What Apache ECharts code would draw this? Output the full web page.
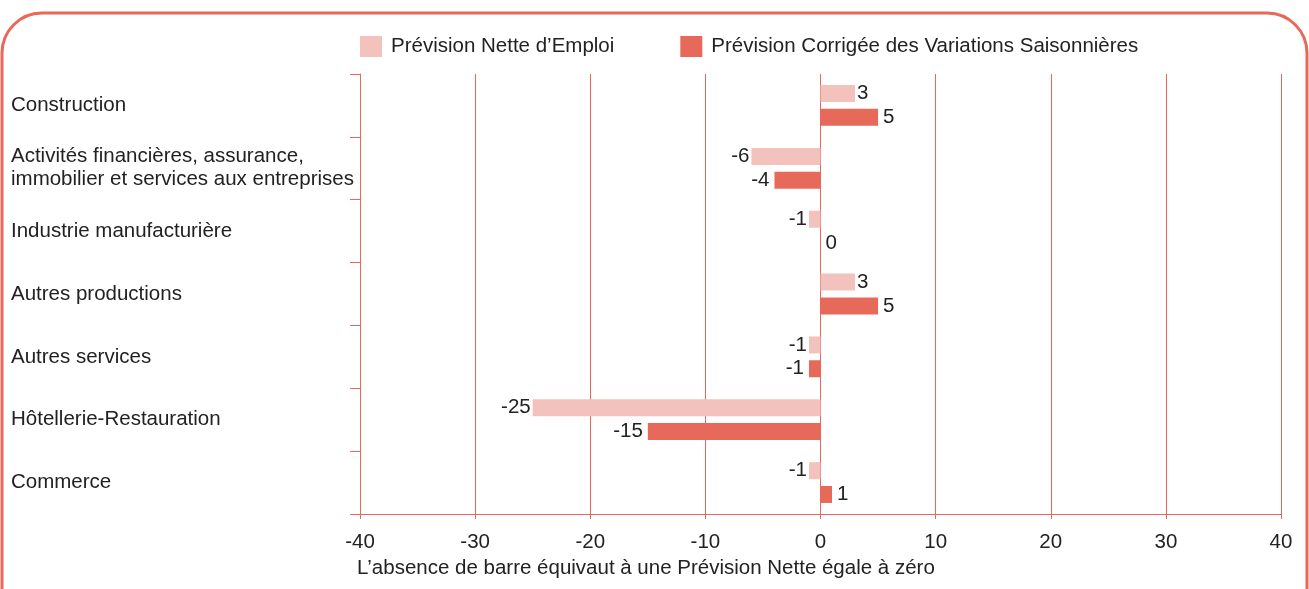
<!DOCTYPE html>
<html>
<head>
<meta charset="utf-8">
<script src="https://cdn.jsdelivr.net/npm/echarts@6/dist/echarts.min.js"></script>
<style>
  html, body { margin: 0; padding: 0; background: #fff; }
  #chart { width: 1309px; height: 589px; }
</style>
</head>
<body>
<div id="chart"></div>
<script>
// secteurs, du haut vers le bas
const sectors = [
  'Construction',
  'Activités financières, assurance,\nimmobilier et services aux entreprises',
  'Industrie manufacturière',
  'Autres productions',
  'Autres services',
  'Hôtellerie-Restauration',
  'Commerce'
];
const netForecast = [3, -6, -1, 3, -1, -25, -1];
const seasonalAdjusted = [5, -4, 0, 5, -1, -15, 1];
const xTicks = [-40, -30, -20, -10, 0, 10, 20, 30, 40];

const LIGHT = '#f3c2bc';
const DARK = '#e6695a';
const LINE = '#e8685a';
const TEXT = '#222';
const FONT = '"Liberation Sans", Arial, sans-serif';

const toItems = (values) =>
  values.map((v) => ({
    value: v,
    label: { position: v < 0 ? 'left' : 'right' },
  }));

const chart = echarts.init(document.getElementById('chart'));

const option = {
  animation: false,
  textStyle: { fontFamily: FONT },
  grid: { left: 360, right: 28, top: 74, bottom: 75 },
  legend: {
    top: 31,
    left: 355,
    itemWidth: 22,
    itemHeight: 21,
    itemGap: 66,
    icon: 'rect',
    textStyle: { fontSize: 20.5, color: TEXT, fontFamily: FONT, padding: [0, 0, 0, 4] },
    data: ['Prévision Nette d’Emploi', 'Prévision Corrigée des Variations Saisonnières'],
  },
  xAxis: {
    type: 'value',
    min: xTicks[0],
    max: xTicks[xTicks.length - 1],
    interval: 10,
    axisLine: { show: true, lineStyle: { color: LINE, width: 1 } },
    axisTick: { show: true, length: 5, lineStyle: { color: LINE } },
    splitLine: { show: true, lineStyle: { color: LINE, width: 1 } },
    axisLabel: { fontSize: 20.5, color: TEXT, margin: 18, fontFamily: FONT },
  },
  yAxis: {
    type: 'category',
    inverse: true,
    data: sectors,
    axisLine: { show: true, onZero: false, lineStyle: { color: LINE } },
    axisTick: { show: true, length: 10, lineStyle: { color: LINE } },
    axisLabel: {
      align: 'left',
      margin: 349,
      fontSize: 20.5,
      lineHeight: 23,
      color: TEXT,
      fontFamily: FONT,
      padding: [0, 0, 10, 0],
    },
  },
  series: [
    {
      name: 'Prévision Nette d’Emploi',
      type: 'bar',
      barWidth: 17,
      barGap: '40%',
      itemStyle: { color: LIGHT },
      label: { show: true, fontSize: 20.5, color: TEXT, distance: 2, fontFamily: FONT },
      data: toItems(netForecast),
    },
    {
      name: 'Prévision Corrigée des Variations Saisonnières',
      type: 'bar',
      barWidth: 17,
      itemStyle: { color: DARK },
      label: { show: true, fontSize: 20.5, color: TEXT, distance: 5, fontFamily: FONT },
      data: toItems(seasonalAdjusted),
    },
  ],
  graphic: [
    {
      type: 'rect',
      shape: { x: 2, y: 13, width: 1305, height: 640, r: 40 },
      style: { fill: 'none', stroke: LINE, lineWidth: 3 },
      silent: true,
    },
    {
      type: 'text',
      left: 357,
      top: 558,
      style: {
        text: 'L’absence de barre équivaut à une Prévision Nette égale à zéro',
        fontSize: 20.5,
        fill: TEXT,
        fontFamily: FONT,
      },
    },
  ],
};

chart.setOption(option);
</script>
</body>
</html>
